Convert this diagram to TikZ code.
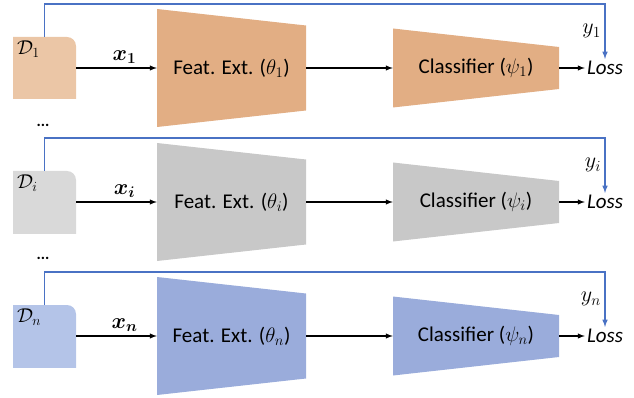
\RequirePackage{fix-cm}
\documentclass[tikz,border=0pt]{standalone}
\usepackage{amsmath,bm}
\usepackage{fontspec}
\setmainfont{Carlito}
\usetikzlibrary{positioning}

\definecolor{oranged}{HTML}{EBC6A6}
\definecolor{orangef}{HTML}{E2AE84}
\definecolor{grayd}{HTML}{D9D9D9}
\definecolor{grayf}{HTML}{C8C8C8}
\definecolor{blued}{HTML}{B4C4E8}
\definecolor{bluef}{HTML}{9AACDB}
\definecolor{fbline}{HTML}{4A72C4}

\tikzstyle{data} = [inner sep=0pt, minimum width=63pt, minimum height=62pt,
  path picture={\fill[#1, rounded corners=9pt] ([xshift=-20pt,yshift=-20pt]path picture bounding box.south west) rectangle (path picture bounding box.north east);}]
\tikzstyle{dlabel} = [anchor=north west, inner sep=4pt, font=\fontsize{20}{24}\selectfont]
\tikzstyle{feat} = [inner sep=0pt, minimum width=149pt, minimum height=118pt, font=\fontsize{21}{25}\selectfont,
  path picture={\fill[#1] (path picture bounding box.north west) -- (path picture bounding box.south west)
    -- ([yshift=16.5pt]path picture bounding box.south east) -- ([yshift=-16.5pt]path picture bounding box.north east) -- cycle;}]
\tikzstyle{cls} = [inner sep=0pt, minimum width=166pt, minimum height=79pt, font=\fontsize{21}{25}\selectfont,
  path picture={\fill[#1] (path picture bounding box.north west) -- (path picture bounding box.south west)
    -- ([yshift=18.5pt]path picture bounding box.south east) -- ([yshift=-18.5pt]path picture bounding box.north east) -- cycle;}]
\tikzstyle{loss} = [inner sep=2pt, font=\fontsize{21}{25}\selectfont\itshape]
\tikzstyle{lbl} = [font=\fontsize{22}{26}\selectfont]
\tikzstyle{dots} = [inner sep=0pt, font=\fontsize{16}{18}\selectfont\bfseries]
\tikzstyle{flow} = [->, line width=1.4pt]
\tikzstyle{fb} = [->, line width=1.5pt, draw=fbline]

\begin{document}
\begin{tikzpicture}[x=1pt,y=-1pt,>=latex]
  \useasboundingbox (0,0) rectangle (634,398);
  %
  % First client
  \node [data=oranged] (d1) at (44.5,68) {};
  \node [dlabel] (dl1) at (d1.north west) {$\mathcal{D}_1$};
  \node [feat=orangef] (fe1) at (231.5,68) {Feat. Ext. ($\theta_1$)};
  \node [cls=orangef] (cl1) at (476,68) {Classifier ($\psi_1$)};
  \node [loss] (loss1) at (605,68) {Loss};
  \draw [flow] (d1) -- node[above, pos=0.6, lbl] {$\bm{x_1}$} (fe1);
  \draw [flow] (fe1) -- (cl1);
  \draw [flow] (cl1) -- (loss1);
  \draw [fb] (d1.north) -- ++(0,-33) -| node[pos=0.75, left, lbl] {$y_1$} (loss1.north);
  \node [dots] (dots1) at (43,125) {...};
  %
  % Client i
  \node [data=grayd] (d2) at (44.5,202) {};
  \node [dlabel] (dl2) at (d2.north west) {$\mathcal{D}_i$};
  \node [feat=grayf] (fe2) at (231.5,202) {Feat. Ext. ($\theta_i$)};
  \node [cls=grayf] (cl2) at (476,202) {Classifier ($\psi_i$)};
  \node [loss] (loss2) at (605,202) {Loss};
  \draw [flow] (d2) -- node[above, pos=0.6, lbl] {$\bm{x_i}$} (fe2);
  \draw [flow] (fe2) -- (cl2);
  \draw [flow] (cl2) -- (loss2);
  \draw [fb] (d2.north) -- ++(0,-33) -| node[pos=0.75, left, lbl] {$y_i$} (loss2.north);
  \node [dots] (dots2) at (43,258) {...};
  %
  % Client n
  \node [data=blued] (d3) at (44.5,336) {};
  \node [dlabel] (dl3) at (d3.north west) {$\mathcal{D}_n$};
  \node [feat=bluef] (fe3) at (231.5,336) {Feat. Ext. ($\theta_n$)};
  \node [cls=bluef] (cl3) at (476,336) {Classifier ($\psi_n$)};
  \node [loss] (loss3) at (605,336) {Loss};
  \draw [flow] (d3) -- node[above, pos=0.6, lbl] {$\bm{x_n}$} (fe3);
  \draw [flow] (fe3) -- (cl3);
  \draw [flow] (cl3) -- (loss3);
  \draw [fb] (d3.north) -- ++(0,-33) -| node[pos=0.75, left, lbl] {$y_n$} (loss3.north);
  %
\end{tikzpicture}
\end{document}
